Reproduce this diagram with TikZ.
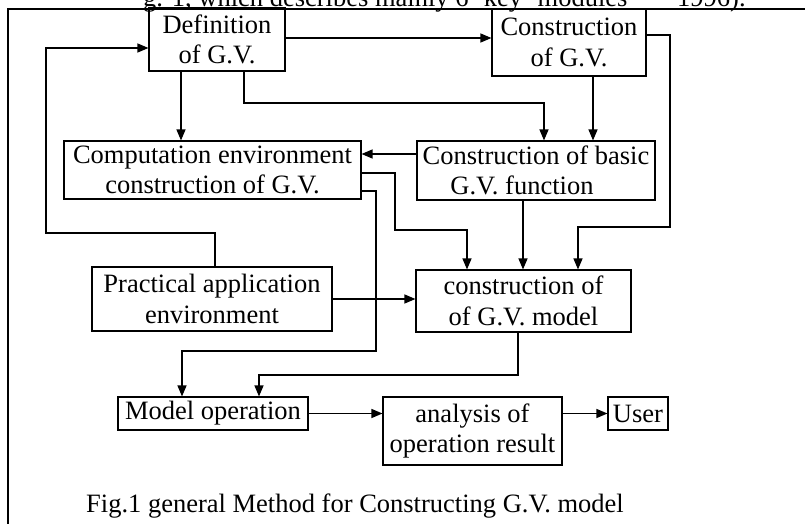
\documentclass[tikz,border=0pt]{standalone}
\usepackage{fontspec}
\setmainfont{Liberation Serif}
\usetikzlibrary{arrows.meta}
\begin{document}
\begin{tikzpicture}[x=1pt,y=-1pt,
  box/.style={draw, line width=1.1pt, inner sep=0pt, align=center,
    font=\fontsize{26.5}{30.5}\selectfont},
  arr/.style={line width=1.2pt, -{Triangle[length=11pt,width=9pt]}},
  frameline/.style={line width=1.1pt},
  txt/.style={inner sep=0pt, font=\fontsize{26.5}{30.5}\selectfont}]
\useasboundingbox (0,0) rectangle (805,524);
% clipped header line of the page
\begin{scope}
  \clip (0,0) rectangle (805,20);
  \node[txt, anchor=base west] (head1) at (143,7) {g. 1, which describes mainly 6 `key' modules};
  \node[txt, anchor=base west] (head2) at (677,7) {1996).};
\end{scope}
% frame
\draw[frameline] (8,524) -- (8,9) -- (805,9);
% boxes
\node[box, minimum width=136pt, minimum height=63pt] (def) at (217,39.5) {Definition\\of G.V.};
\node[box, minimum width=154pt, minimum height=67pt] (cons) at (569,42.5) {Construction\\of G.V.};
\node[box, minimum width=297pt, minimum height=58pt] (comp) at (212.5,170) {Computation environment\\construction of G.V.};
\node[box, minimum width=238pt, minimum height=59pt] (basic) at (536,170.5) {Construction of basic\\G.V. function\hspace*{28pt}};
\node[box, minimum width=240pt, minimum height=64pt] (prac) at (212,299) {Practical application\\environment};
\node[box, minimum width=215pt, minimum height=62pt] (model) at (523.5,301) {construction of\\of G.V. model};
\node[box, minimum width=190pt, minimum height=33pt] (mop) at (213,413.5) {Model operation};
\node[box, minimum width=179pt, minimum height=68pt] (anal) at (472.5,431) {analysis of\\operation result};
\node[box, minimum width=60pt, minimum height=33pt] (user) at (638,413.5) {User};
% caption
\node[txt, anchor=base west] (cap) at (86,512) {Fig.1 general Method for Constructing G.V. model};
% connectors
\draw[arr] (def.east |- 0,38) -- (cons.west |- 0,38);
\draw[arr] (def.south -| 181,0) -- (comp.north -| 181,0);
\draw[arr] (def.south -| 244,0) -- (244,103) -- (544,103) -- (basic.north -| 544,0);
\draw[arr] (cons.south -| 593,0) -- (basic.north -| 593,0);
\draw[arr] (cons.east |- 0,35) -- (670,35) -- (670,227) -- (578,227) -- (model.north -| 578,0);
\draw[arr] (basic.west |- 0,154) -- (comp.east |- 0,154);
\draw[arr] (comp.east |- 0,173) -- (395,173) -- (395,230) -- (467,230) -- (model.north -| 467,0);
\draw[arr] (comp.east |- 0,191) -- (376,191) -- (376,351) -- (182,351) -- (mop.north -| 182,0);
\draw[arr] (basic.south -| 523,0) -- (model.north -| 523,0);
\draw[arr] (prac.north -| 215,0) -- (215,233) -- (46,233) -- (46,48) -- (def.west |- 0,48);
\draw[arr] (prac.east |- 0,299) -- (model.west |- 0,299);
\draw[arr] (model.south -| 518,0) -- (518,375) -- (259,375) -- (mop.north -| 259,0);
\draw[arr] (mop.east) -- (anal.west |- mop.east);
\draw[arr] (anal.east |- mop.east) -- (user.west);
\end{tikzpicture}
\end{document}
